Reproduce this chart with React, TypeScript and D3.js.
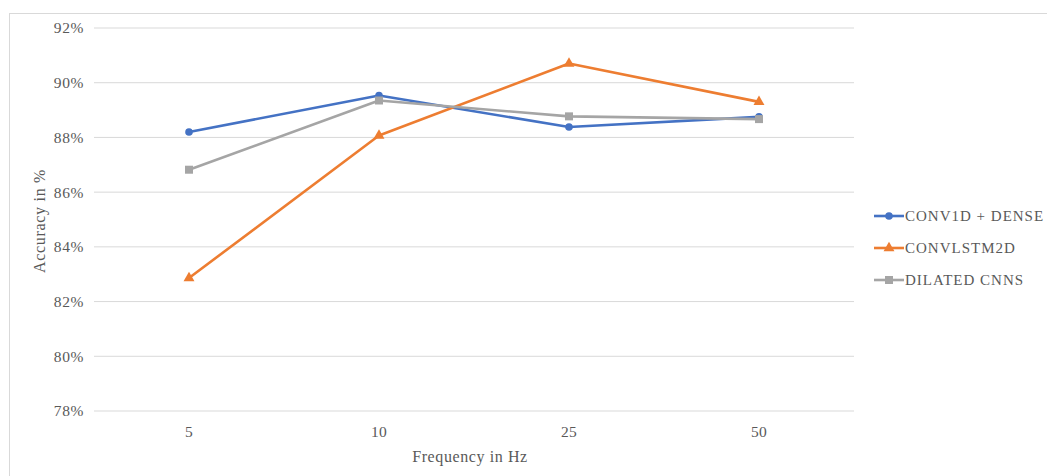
import React from "react";
import * as d3 from "d3";

const frequencies = ["5", "10", "25", "50"];
const conv1dDense = [88.2, 89.53, 88.38, 88.75];
const convLstm2d = [82.86, 88.07, 90.7, 89.3];
const dilatedCnns = [86.82, 89.35, 88.77, 88.67];
const yTicks = [78, 80, 82, 84, 86, 88, 90, 92];

const seriesList = [
  { name: "CONV1D + DENSE", values: conv1dDense, color: "#4472C4", marker: "circle" },
  { name: "CONVLSTM2D", values: convLstm2d, color: "#ED7D31", marker: "triangle" },
  { name: "DILATED CNNS", values: dilatedCnns, color: "#A5A5A5", marker: "square" },
];

const W = 1047;
const H = 476;
const plot = { left: 94, right: 854, top: 28, bottom: 411 };
const font = "'Liberation Serif', 'DejaVu Serif', serif";
const textColor = "#595959";

function Marker({ kind, x, y, color }: { kind: string; x: number; y: number; color: string }) {
  if (kind === "circle") return <circle cx={x} cy={y} r={3.8} fill={color} />;
  if (kind === "triangle") {
    const p = d3.symbol(d3.symbolTriangle, 52)()!;
    return <path d={p} transform={`translate(${x},${y})`} fill={color} />;
  }
  return <rect x={x - 4} y={y - 4} width={8} height={8} fill={color} />;
}

export default function App() {
  const x = d3.scaleBand<string>().domain(frequencies).range([plot.left, plot.right]);
  const y = d3.scaleLinear().domain([78, 92]).range([plot.bottom, plot.top]);
  const cx = (f: string) => (x(f) ?? 0) + x.bandwidth() / 2;
  const line = d3
    .line<number>()
    .x((_, i) => cx(frequencies[i]))
    .y((v) => y(v));

  const legendX = 874;
  const legendY = [216, 248, 280];

  return (
    <svg width={W} height={H} style={{ position: "absolute", left: 0, top: 0, background: "#fff" }}>
      <rect x={9.5} y={13.5} width={W} height={H} fill="#fff" stroke="#D9D9D9" strokeWidth={1} />
      {yTicks.map((t) => (
        <g key={t}>
          <line x1={plot.left} x2={plot.right} y1={y(t)} y2={y(t)} stroke="#D9D9D9" strokeWidth={1} />
          <text
            x={84}
            y={y(t)}
            dy="0.35em"
            textAnchor="end"
            fontFamily={font}
            fontSize={15.5}
            letterSpacing={0.6}
            fill={textColor}
          >
            {t}%
          </text>
        </g>
      ))}
      {frequencies.map((f) => (
        <text
          key={f}
          x={cx(f)}
          y={437}
          textAnchor="middle"
          fontFamily={font}
          fontSize={15.5}
          letterSpacing={0.3}
          fill={textColor}
        >
          {f}
        </text>
      ))}
      <text
        x={470}
        y={462}
        textAnchor="middle"
        fontFamily={font}
        fontSize={16}
        letterSpacing={0.6}
        fill={textColor}
      >
        Frequency in Hz
      </text>
      <text
        transform="translate(45,221) rotate(-90)"
        textAnchor="middle"
        fontFamily={font}
        fontSize={16}
        letterSpacing={0.7}
        fill={textColor}
      >
        Accuracy in %
      </text>
      {seriesList.map((s) => (
        <g key={s.name}>
          <path d={line(s.values)!} fill="none" stroke={s.color} strokeWidth={2.6} strokeLinejoin="round" />
          {s.values.map((v, i) => (
            <Marker key={i} kind={s.marker} x={cx(frequencies[i])} y={y(v)} color={s.color} />
          ))}
        </g>
      ))}
      {seriesList.map((s, i) => (
        <g key={s.name}>
          <line x1={legendX} x2={legendX + 30} y1={legendY[i]} y2={legendY[i]} stroke={s.color} strokeWidth={2.6} />
          <Marker kind={s.marker} x={legendX + 15} y={legendY[i]} color={s.color} />
          <text
            x={legendX + 31}
            y={legendY[i]}
            dy="0.35em"
            fontFamily={font}
            fontSize={15}
            letterSpacing={1}
            fill={textColor}
          >
            {s.name}
          </text>
        </g>
      ))}
    </svg>
  );
}
